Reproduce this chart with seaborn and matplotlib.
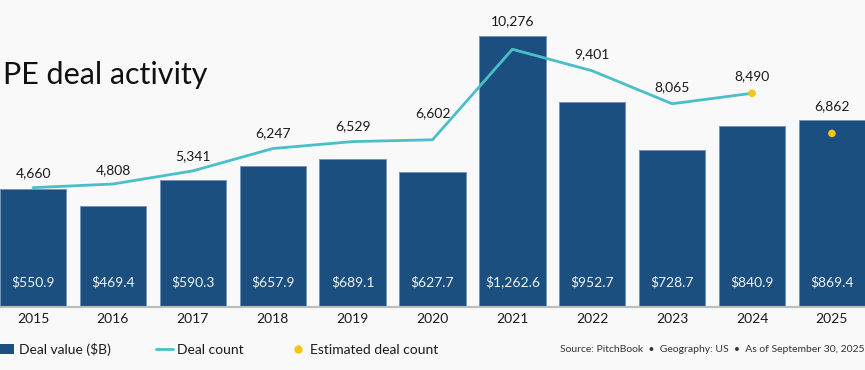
import matplotlib
matplotlib.use('Agg')
import matplotlib.pyplot as plt
from matplotlib.lines import Line2D
from matplotlib.patches import Patch
import numpy as np
import pandas as pd
import seaborn as sns

# data
years = ['2015', '2016', '2017', '2018', '2019', '2020', '2021', '2022', '2023', '2024', '2025']
deal_value = [550.9, 469.4, 590.3, 657.9, 689.1, 627.7, 1262.6, 952.7, 728.7, 840.9, 869.4]
deal_count = [4660, 4808, 5341, 6247, 6529, 6602, 10276, 9401, 8065, 8490]
est_years = ['2024', '2025']
est_count = [8490, 6862]
count_labels = ['4,660', '4,808', '5,341', '6,247', '6,529', '6,602', '10,276',
                '9,401', '8,065', '8,490', '6,862']

BAR = '#1b4f7f'
LINE = '#4bbfc9'
DOT = '#f5c518'
BG = '#f9f9f9'

sns.set_theme(style='white')
plt.rcParams['font.family'] = ['Lato', 'DejaVu Sans']

df = pd.DataFrame({'year': years, 'value': deal_value})

fig = plt.figure(figsize=(8.65, 3.7), dpi=100, facecolor=BG)
ax = fig.add_axes([0, 63 / 370, 1, 307 / 370])
ax.set_facecolor(BG)

sns.barplot(data=df, x='year', y='value', color=BAR, width=0.83,
            saturation=1, edgecolor='#6f93b8', linewidth=0.6, ax=ax)
ax.set_xlim(-0.414, 10.414)
ax.set_ylim(0, 1428.8)
ax.axhline(0, color='#bdbdbd', lw=1.5, clip_on=False, zorder=5)

# white value labels near the bottom of each bar
for i, v in enumerate(deal_value):
    ax.annotate(f'${v:,.1f}', xy=(i, 0), xytext=(0, 18), textcoords='offset points',
                ha='center', va='center', color='#eef2f6', fontsize=10)

ax.set_xlabel('')
ax.set_ylabel('')
ax.set_yticks([])
ax.tick_params(axis='x', length=0, pad=4.5, labelsize=10, labelcolor='#1a1a1a')
for s in ax.spines.values():
    s.set_visible(False)

ax2 = ax.twinx()
ax2.set_ylim(-183, 12275)
n = len(deal_count)
sns.lineplot(x=np.arange(n), y=deal_count, color=LINE, lw=2, ax=ax2)
est_pos = [years.index(y) for y in est_years]
sns.scatterplot(x=est_pos, y=est_count, color=DOT, s=30, edgecolor='none', zorder=6, ax=ax2)
ax2.set_yticks([])
for s in ax2.spines.values():
    s.set_visible(False)

# count labels above the line (offsets in px to clear line / bars)
label_y = deal_count + [est_count[-1]]
offsets_px = [14, 14, 15, 15, 15, 27, 28, 17, 17, 17, 27]
for i, (c, t) in enumerate(zip(label_y, count_labels)):
    ax2.annotate(t, xy=(i, c), xytext=(0, offsets_px[i] * 0.72), textcoords='offset points',
                 ha='center', va='center', fontsize=10, color='#1a1a1a')

fig.text(3 / 865, 1 - 75 / 370, 'PE deal activity', fontsize=22, color='#111111',
         ha='left', va='center')

handles = [Patch(facecolor=BAR, edgecolor='none'),
           Line2D([], [], color=LINE, lw=2),
           Line2D([], [], color=DOT, marker='o', ls='none', markersize=5)]
fig.legend(handles, ['Deal value ($B)', 'Deal count', 'Estimated deal count'],
           loc='center left', bbox_to_anchor=(-0.017, 1 - 349 / 370), ncol=3, frameon=False,
           fontsize=10, handlelength=1.2, handletextpad=0.3, columnspacing=3.3,
           labelcolor='#1a1a1a')

fig.text(864 / 865, 1 - 350 / 370,
         'Source: PitchBook  \u2022  Geography: US  \u2022  As of September 30, 2025',
         ha='right', va='center', fontsize=7.5, color='#333333')

fig.savefig('out.png', dpi=100, facecolor=BG)
